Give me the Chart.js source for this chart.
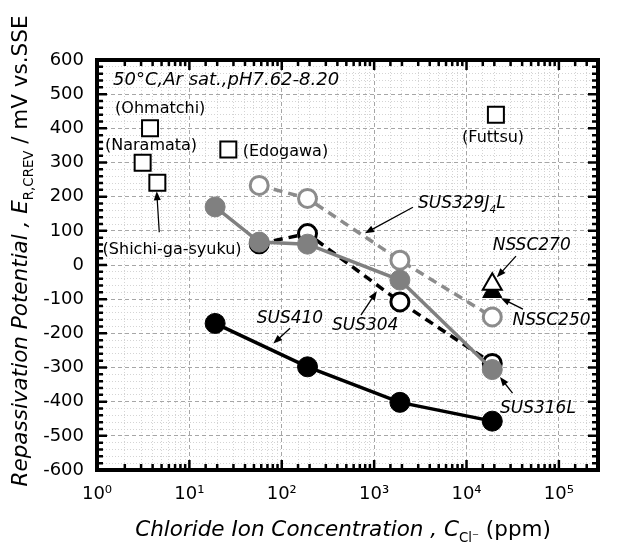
<!DOCTYPE html>
<html>
<head>
<meta charset="utf-8">
<script src="https://cdn.jsdelivr.net/npm/chart.js@4.4.0/dist/chart.umd.min.js"></script>
<style>
  html, body { margin: 0; padding: 0; background: #fff; }
  #wrap { width: 617px; height: 544px; }
</style>
</head>
<body>
<div id="wrap"><canvas id="chart"></canvas></div>
<script>
const FONT = "'DejaVu Sans', Verdana, sans-serif";

// chloride concentration (ppm) vs repassivation potential (mV vs. SSE)
const sus410X = [19, 190, 1900, 19000];
const sus410Y = [-171, -298, -402, -457];
const sus316X = [19, 57, 190, 1900, 19000];
const sus316Y = [170, 67, 61, -44, -306];
const sus304X = [57, 190, 1900, 19000];
const sus304Y = [62, 92, -108, -288];
const sus329X = [57, 190, 1900, 19000];
const sus329Y = [233, 195, 14, -152];
const nssc270X = [19000];
const nssc270Y = [-56];
const nssc250X = [19000];
const nssc250Y = [-79];
// field sites (open squares)
const siteNames = ['Ohmatchi', 'Naramata', 'Shichi-ga-syuku', 'Edogawa', 'Futtsu'];
const siteX = [3.75, 3.12, 4.5, 26.4, 20800];
const siteY = [400, 299, 241, 338, 440];

const xMin = 1, xMax = 2.65e5;
const yMin = -600, yMax = 600;

const pts = (xs, ys) => xs.map((v, i) => ({ x: v, y: ys[i] }));
const isDecade = v => Math.abs(Math.log10(v) - Math.round(Math.log10(v))) < 1e-6;
const SUP = ['⁰', '¹', '²', '³', '⁴', '⁵', '⁶'];

// text notes, placed in data coordinates
const notes = [
  { segs: [{ t: '50°C,Ar sat.,pH7.62-8.20', i: true }], x: 1.49, y: 526, size: 18 },
  { segs: [{ t: '(Ohmatchi)' }], x: 1.57, y: 444, size: 16 },
  { segs: [{ t: '(Naramata)' }], x: 1.22, y: 338, size: 16 },
  { segs: [{ t: '(Edogawa)' }], x: 37.8, y: 318, size: 16 },
  { segs: [{ t: '(Shichi-ga-syuku)' }], x: 1.15, y: 31, size: 16,
    arrow: [4.72, 96, 4.43, 216] },
  { segs: [{ t: '(Futtsu)' }], x: 19400, y: 360, size: 16, align: 'center' },
  { segs: [{ t: 'SUS329J', i: true }, { t: '4', i: true, sub: true }, { t: 'L', i: true }],
    x: 2980, y: 166, size: 17, arrow: [2630, 169, 795, 93] },
  { segs: [{ t: 'NSSC270', i: true }], x: 19200, y: 45, size: 17,
    arrow: [34300, 26, 21300, -36] },
  { segs: [{ t: 'NSSC250', i: true }], x: 31500, y: -176, size: 17,
    arrow: [40800, -129, 23600, -97] },
  { segs: [{ t: 'SUS316L', i: true }], x: 23000, y: -433, size: 17,
    arrow: [31500, -375, 23000, -328] },
  { segs: [{ t: 'SUS304', i: true }], x: 349, y: -191, size: 17,
    arrow: [719, -147, 1070, -77] },
  { segs: [{ t: 'SUS410', i: true }], x: 53.5, y: -171, size: 17,
    arrow: [123, -185, 81, -230] }
];

function drawRich(ctx, segs, x, y, size, align) {
  const parts = segs.map(s => {
    const fs = (s.sub || s.sup) ? size * 0.62 : size;
    const font = (s.i ? 'italic ' : '') + fs + 'px ' + FONT;
    ctx.font = font;
    const dy = s.sub ? size * 0.28 : s.sup ? -size * 0.45 : 0;
    return { t: s.t, font, dy, w: ctx.measureText(s.t).width };
  });
  const total = parts.reduce((a, p) => a + p.w, 0);
  let cx = align === 'center' ? x - total / 2 : x;
  ctx.textAlign = 'left';
  ctx.textBaseline = 'alphabetic';
  for (const p of parts) {
    ctx.font = p.font;
    ctx.fillText(p.t, cx, y + p.dy);
    cx += p.w;
  }
}

function arrow(ctx, x1, y1, x2, y2) {
  const ang = Math.atan2(y2 - y1, x2 - x1);
  ctx.beginPath();
  ctx.moveTo(x1, y1);
  ctx.lineTo(x2 - 5 * Math.cos(ang), y2 - 5 * Math.sin(ang));
  ctx.lineWidth = 1.3;
  ctx.stroke();
  ctx.beginPath();
  ctx.moveTo(x2, y2);
  ctx.lineTo(x2 - 9 * Math.cos(ang) + 3.5 * Math.sin(ang), y2 - 9 * Math.sin(ang) - 3.5 * Math.cos(ang));
  ctx.lineTo(x2 - 9 * Math.cos(ang) - 3.5 * Math.sin(ang), y2 - 9 * Math.sin(ang) + 3.5 * Math.cos(ang));
  ctx.closePath();
  ctx.fill();
}

const frameTicks = {
  id: 'frameTicks',
  afterDraw(chart) {
    const { ctx, chartArea: a, scales: { x, y } } = chart;
    ctx.save();
    ctx.strokeStyle = '#000';
    ctx.lineWidth = 2.5;
    ctx.beginPath();
    for (const t of x.ticks) {
      if (t.value <= x.min || t.value >= x.max) continue;
      const px = x.getPixelForValue(t.value);
      const len = isDecade(t.value) ? 10 : 6;
      ctx.moveTo(px, a.bottom); ctx.lineTo(px, a.bottom - len);
      ctx.moveTo(px, a.top); ctx.lineTo(px, a.top + len);
    }
    for (const t of y.ticks) {
      if (t.value <= y.min || t.value >= y.max) continue;
      const py = y.getPixelForValue(t.value);
      const len = t.value % 100 === 0 ? 10 : 6;
      ctx.moveTo(a.left, py); ctx.lineTo(a.left + len, py);
      ctx.moveTo(a.right, py); ctx.lineTo(a.right - len, py);
    }
    ctx.stroke();
    ctx.lineWidth = 4;
    ctx.strokeRect(a.left, a.top, a.right - a.left, a.bottom - a.top);
    ctx.restore();
  }
};

const notesPlugin = {
  id: 'notes',
  afterDraw(chart) {
    const { ctx, scales: { x, y } } = chart;
    ctx.save();
    ctx.fillStyle = '#000';
    ctx.strokeStyle = '#000';
    for (const n of notes) {
      drawRich(ctx, n.segs, x.getPixelForValue(n.x), y.getPixelForValue(n.y), n.size, n.align);
      if (n.arrow) {
        const [ax1, ay1, ax2, ay2] = n.arrow;
        arrow(ctx, x.getPixelForValue(ax1), y.getPixelForValue(ay1),
              x.getPixelForValue(ax2), y.getPixelForValue(ay2));
      }
    }
    // axis titles
    drawRich(ctx, [
      { t: 'Chloride Ion Concentration , ', i: true },
      { t: 'C', i: true },
      { t: 'Cl⁻', sub: true },
      { t: ' (ppm)' }
    ], 343, 536, 21.5, 'center');
    ctx.translate(27, 251);
    ctx.rotate(-Math.PI / 2);
    drawRich(ctx, [
      { t: 'Repassivation Potential , ', i: true },
      { t: 'E', i: true },
      { t: 'R,CREV', sub: true },
      { t: ' / mV vs.SSE' }
    ], 0, 0, 21.5, 'center');
    ctx.restore();
  }
};

const GRAY = '#808080';
const LGRAY = '#8c8c8c';

new Chart(document.getElementById('chart'), {
  type: 'scatter',
  data: {
    datasets: [
      {
        label: 'SUS410', data: pts(sus410X, sus410Y), order: 0,
        showLine: true, borderColor: '#000', borderWidth: 3.5,
        pointRadius: 10, pointBackgroundColor: '#000', pointBorderColor: '#000', pointBorderWidth: 1
      },
      {
        label: 'SUS316L', data: pts(sus316X, sus316Y), order: 1,
        showLine: true, borderColor: GRAY, borderWidth: 3.5,
        pointRadius: 10, pointBackgroundColor: GRAY, pointBorderColor: GRAY, pointBorderWidth: 1
      },
      {
        label: 'SUS304', data: pts(sus304X, sus304Y), order: 2,
        showLine: true, borderColor: '#000', borderWidth: 3.5, borderDash: [9, 6],
        pointRadius: 9, pointBackgroundColor: '#fff', pointBorderColor: '#000', pointBorderWidth: 3
      },
      {
        label: 'SUS329J4L', data: pts(sus329X, sus329Y), order: 3,
        showLine: true, borderColor: LGRAY, borderWidth: 3.5, borderDash: [9, 6],
        pointRadius: 9, pointBackgroundColor: '#fff', pointBorderColor: LGRAY, pointBorderWidth: 3
      },
      {
        label: 'NSSC270', data: pts(nssc270X, nssc270Y), order: 0,
        pointStyle: 'triangle', pointRadius: 11,
        pointBackgroundColor: '#fff', pointBorderColor: '#000', pointBorderWidth: 2
      },
      {
        label: 'NSSC250', data: pts(nssc250X, nssc250Y), order: 1,
        pointStyle: 'triangle', pointRadius: 11,
        pointBackgroundColor: '#000', pointBorderColor: '#000', pointBorderWidth: 1
      },
      {
        label: 'Sites', data: pts(siteX, siteY), order: 0,
        pointStyle: 'rect', pointRadius: 11.3,
        pointBackgroundColor: '#fff', pointBorderColor: '#000', pointBorderWidth: 2
      }
    ]
  },
  options: {
    responsive: true,
    maintainAspectRatio: false,
    animation: false,
    events: [],
    layout: { padding: { top: 60, right: 19, left: 0, bottom: 0 } },
    plugins: { legend: { display: false }, tooltip: { enabled: false } },
    scales: {
      x: {
        type: 'logarithmic',
        min: xMin,
        max: xMax,
        afterFit: s => { s.height = 74; },
        border: { display: false, dash: ctx => (ctx.tick && isDecade(ctx.tick.value)) ? [4, 3] : [1, 2] },
        grid: {
          drawTicks: false,
          lineWidth: 1,
          color: ctx => (ctx.tick && isDecade(ctx.tick.value)) ? '#a6a6a6' : '#d4d4d4'
        },
        ticks: {
          autoSkip: false,
          maxRotation: 0,
          padding: 14,
          color: '#000',
          font: { family: FONT, size: 18 },
          callback: v => isDecade(v) ? '10' + SUP[Math.round(Math.log10(v))] : ''
        }
      },
      y: {
        min: yMin,
        max: yMax,
        afterFit: s => { s.width = 97; },
        border: { display: false, dash: ctx => (ctx.tick && ctx.tick.value % 100 === 0) ? [4, 3] : [1, 2] },
        grid: {
          drawTicks: false,
          lineWidth: 1,
          color: ctx => (ctx.tick && ctx.tick.value % 100 === 0) ? '#a6a6a6' : '#d4d4d4'
        },
        ticks: {
          stepSize: 20,
          autoSkip: false,
          padding: 13,
          color: '#000',
          font: { family: FONT, size: 18 },
          callback: v => v % 100 === 0 ? String(v) : ''
        }
      }
    }
  },
  plugins: [frameTicks, notesPlugin]
});
</script>
</body>
</html>
